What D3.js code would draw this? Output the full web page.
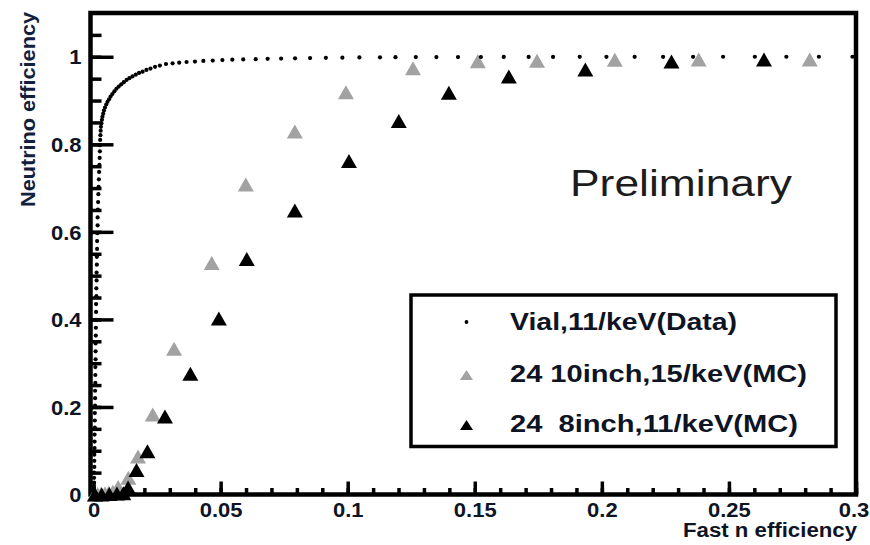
<!DOCTYPE html>
<html>
<head>
<meta charset="utf-8">
<script src="https://cdn.jsdelivr.net/npm/d3@7"></script>
<style>
  html, body { margin: 0; padding: 0; background: #ffffff; }
  svg { display: block; }
  text { font-family: "Liberation Sans", Arial, Helvetica, sans-serif; }
</style>
</head>
<body>
<svg id="chart" width="870" height="545"></svg>
<script>
// Vial, 11/keV (Data): [fast n efficiency, neutrino efficiency]
const vialPoints = [
  [0.0000, 0.000], [0.0001, 0.008], [0.0001, 0.017], [0.0002, 0.027], [0.0002, 0.038],
  [0.0002, 0.050], [0.0003, 0.063], [0.0003, 0.077], [0.0003, 0.091], [0.0004, 0.106],
  [0.0004, 0.121], [0.0004, 0.137], [0.0005, 0.153], [0.0005, 0.169], [0.0005, 0.186],
  [0.0006, 0.203], [0.0006, 0.220], [0.0006, 0.237], [0.0007, 0.255], [0.0007, 0.273],
  [0.0007, 0.291], [0.0008, 0.309], [0.0008, 0.327], [0.0008, 0.345], [0.0009, 0.363],
  [0.0009, 0.381], [0.0010, 0.399], [0.0010, 0.417], [0.0010, 0.435], [0.0011, 0.453],
  [0.0011, 0.471], [0.0012, 0.489], [0.0012, 0.507], [0.0013, 0.525], [0.0013, 0.543],
  [0.0014, 0.561], [0.0014, 0.579], [0.0015, 0.597], [0.0016, 0.615], [0.0016, 0.633],
  [0.0017, 0.651], [0.0018, 0.668], [0.0019, 0.686], [0.0020, 0.703], [0.0021, 0.720],
  [0.0022, 0.737], [0.0023, 0.753], [0.0024, 0.769], [0.0025, 0.784], [0.0025, 0.798],
  [0.0026, 0.810], [0.0027, 0.821], [0.0028, 0.831], [0.0029, 0.840], [0.0031, 0.848],
  [0.0033, 0.856], [0.0035, 0.863], [0.0038, 0.870], [0.0041, 0.877], [0.0045, 0.884],
  [0.0050, 0.891], [0.0055, 0.897], [0.0061, 0.903], [0.0067, 0.909], [0.0074, 0.915],
  [0.0082, 0.921], [0.0090, 0.927], [0.0099, 0.932], [0.0109, 0.937], [0.0119, 0.942],
  [0.0130, 0.947], [0.0141, 0.951], [0.0153, 0.955], [0.0166, 0.959], [0.0179, 0.963],
  [0.0193, 0.966], [0.0208, 0.970], [0.0224, 0.973], [0.0242, 0.977], [0.0261, 0.980],
  [0.0285, 0.9835], [0.0311, 0.9851], [0.0337, 0.9865], [0.0366, 0.9881], [0.0399, 0.9891],
  [0.0432, 0.9904], [0.0469, 0.9913], [0.0507, 0.9925], [0.0546, 0.9933], [0.0589, 0.9940],
  [0.0638, 0.9946], [0.0685, 0.9952], [0.0738, 0.9958], [0.0793, 0.9965], [0.0852, 0.9971],
  [0.0914, 0.9976], [0.0979, 0.9980], [0.1046, 0.9985], [0.1127, 0.9988], [0.1188, 0.9990],
  [0.1268, 0.9992], [0.1349, 0.9993], [0.1434, 0.9994], [0.1524, 0.9995], [0.1614, 0.9996],
  [0.1712, 0.9997], [0.1808, 0.9997], [0.1913, 0.9998], [0.2018, 0.9998], [0.2129, 0.9999],
  [0.2241, 0.9999], [0.2359, 0.9999], [0.2477, 1.0000], [0.2602, 1.0000], [0.2726, 1.0000],
  [0.2854, 1.0000], [0.2986, 1.0000]
];

// 24 10inch, 15/keV (MC)
const tenInchPoints = [
  [0.0004, 0.000], [0.0016, 0.001], [0.0030, 0.002], [0.0045, 0.003], [0.0060, 0.004],
  [0.0076, 0.006], [0.0097, 0.017], [0.0137, 0.038], [0.0175, 0.087], [0.0233, 0.183],
  [0.0317, 0.333], [0.0465, 0.529], [0.0599, 0.708], [0.0792, 0.829], [0.0993, 0.919],
  [0.1257, 0.974], [0.1512, 0.990], [0.1745, 0.991], [0.2051, 0.993], [0.2381, 0.994],
  [0.2818, 0.994]
];

// 24 8inch, 11/keV (MC)
const eightInchPoints = [
  [0.0006, 0.000], [0.0032, 0.000], [0.0062, 0.001], [0.0092, 0.002], [0.0117, 0.003],
  [0.0136, 0.016], [0.0169, 0.056], [0.0212, 0.099], [0.0281, 0.178], [0.0381, 0.276],
  [0.0493, 0.402], [0.0603, 0.538], [0.0792, 0.649], [0.1005, 0.762], [0.1201, 0.853],
  [0.1398, 0.918], [0.1634, 0.955], [0.1935, 0.971], [0.2274, 0.989], [0.2638, 0.994]
];

const xTickValues = [0, 0.05, 0.1, 0.15, 0.2, 0.25, 0.3];
const xTickLabels = ["0", "0.05", "0.1", "0.15", "0.2", "0.25", "0.3"];
const yTickValues = [0, 0.2, 0.4, 0.6, 0.8, 1];
const yTickLabels = ["0", "0.2", "0.4", "0.6", "0.8", "1"];
const legendLabels = ["Vial,11/keV(Data)", "24 10inch,15/keV(MC)", "24  8inch,11/keV(MC)"];
const xTitle = "Fast n efficiency";
const yTitle = "Neutrino efficiency";
const watermark = "Preliminary";

// ---- layout ----
const xDomain = [-0.0012, 0.3];
const yDomain = [0, 1.1];
const frame = { left: 90.5, right: 856, top: 13, bottom: 494.5 };
const textColor = "#0e1424";
const grayColor = "#a2a2a2";
const tickFont = 20;
const glyphStretch = 1.1;

const svg = d3.select("#chart");
const x = d3.scaleLinear().domain(xDomain).range([frame.left, frame.right]);
const y = d3.scaleLinear().domain(yDomain).range([frame.bottom, frame.top]);

// triangle marker centred on its bounding box
function triangle(w, h) {
  return `M0,${-h / 2}L${w / 2},${h / 2}L${-w / 2},${h / 2}Z`;
}

// ---- minor and major ticks ----
const xMinor = d3.range(0, 0.3001, 0.01).map(v => +v.toFixed(3));
const yMinor = d3.range(0, 1.1001, 0.05).map(v => +v.toFixed(3)).filter(v => v < 1.09);

function styleAxis(g) {
  g.select(".domain").remove();
  g.selectAll(".tick line").attr("stroke", "#000").attr("stroke-width", 3.5);
}

svg.append("g")
  .attr("transform", `translate(0,${frame.bottom})`)
  .call(d3.axisBottom(x).tickValues(xMinor).tickSize(-6.5).tickFormat(""))
  .call(styleAxis);

svg.append("g")
  .attr("transform", `translate(${frame.left},0)`)
  .call(d3.axisLeft(y).tickValues(yMinor).tickSize(-11).tickFormat(""))
  .call(styleAxis);

const gx = svg.append("g")
  .attr("transform", `translate(0,${frame.bottom})`)
  .call(d3.axisBottom(x).tickValues(xTickValues).tickSize(-13).tickPadding(8.5)
    .tickFormat((d, i) => xTickLabels[i]))
  .call(styleAxis);
gx.selectAll(".tick text")
  .attr("fill", textColor)
  .attr("font-size", tickFont)
  .attr("font-weight", "bold")
  .attr("transform", `scale(${glyphStretch},1)`);
// keep the last label inside the page edge
gx.selectAll(".tick text").filter((d, i, n) => i === n.length - 1)
  .attr("x", -2.5 / glyphStretch);

const gy = svg.append("g")
  .attr("transform", `translate(${frame.left},0)`)
  .call(d3.axisLeft(y).tickValues(yTickValues).tickSize(-23).tickPadding(8)
    .tickFormat((d, i) => yTickLabels[i]))
  .call(styleAxis);
gy.selectAll(".tick text")
  .attr("fill", textColor)
  .attr("font-size", tickFont)
  .attr("font-weight", "bold")
  .attr("x", -9 / glyphStretch)
  .attr("dy", "0.36em")
  .attr("transform", `scale(${glyphStretch},1)`);

// ---- frame ----
svg.append("rect")
  .attr("x", frame.left).attr("y", frame.top)
  .attr("width", frame.right - frame.left).attr("height", frame.bottom - frame.top)
  .attr("fill", "none").attr("stroke", "#000").attr("stroke-width", 4.5);

// ---- axis titles ----
svg.append("text")
  .attr("x", 857).attr("y", 537)
  .attr("text-anchor", "end")
  .attr("font-size", 19.5).attr("font-weight", "bold")
  .attr("fill", textColor)
  .attr("textLength", 174).attr("lengthAdjust", "spacingAndGlyphs")
  .text(xTitle);

svg.append("text")
  .attr("transform", "translate(35,12) rotate(-90)")
  .attr("text-anchor", "end")
  .attr("font-size", 19.5).attr("font-weight", "bold")
  .attr("fill", "#13203c")
  .attr("textLength", 195).attr("lengthAdjust", "spacingAndGlyphs")
  .text(yTitle);

// ---- watermark ----
svg.append("text")
  .attr("x", 570).attr("y", 196)
  .attr("font-family", "Lato, 'Open Sans', sans-serif")
  .attr("font-size", 37)
  .attr("fill", "#1c1c1c")
  .attr("textLength", 222).attr("lengthAdjust", "spacingAndGlyphs")
  .text(watermark);

// ---- data markers ----
svg.append("g").selectAll("path")
  .data(tenInchPoints).join("path")
  .attr("d", triangle(16, 14))
  .attr("transform", d => `translate(${x(d[0])},${y(d[1])})`)
  .attr("fill", grayColor);

svg.append("g").selectAll("path")
  .data(eightInchPoints).join("path")
  .attr("d", triangle(16, 14))
  .attr("transform", d => `translate(${x(d[0])},${y(d[1])})`)
  .attr("fill", "#000");

svg.append("g").selectAll("circle")
  .data(vialPoints).join("circle")
  .attr("cx", d => x(d[0]))
  .attr("cy", d => y(d[1]))
  .attr("r", 2.1)
  .attr("fill", "#000");

// ---- legend ----
const legend = svg.append("g");
legend.append("rect")
  .attr("x", 411).attr("y", 295).attr("width", 425).attr("height", 151.5)
  .attr("fill", "#fff").attr("stroke", "#000").attr("stroke-width", 3.5);

const legendRows = [
  { label: legendLabels[0], baseline: 330, markY: 322, width: 227, kind: "dot", color: "#000" },
  { label: legendLabels[1], baseline: 382, markY: 375, width: 297, kind: "tri", color: grayColor },
  { label: legendLabels[2], baseline: 432, markY: 425, width: 288, kind: "tri", color: "#000" }
];
legendRows.forEach(row => {
  if (row.kind === "dot") {
    legend.append("circle").attr("cx", 466.5).attr("cy", row.markY).attr("r", 1.9).attr("fill", row.color);
  } else {
    legend.append("path").attr("d", triangle(13, 10))
      .attr("transform", `translate(466.5,${row.markY})`).attr("fill", row.color);
  }
  legend.append("text")
    .attr("x", 510).attr("y", row.baseline)
    .attr("font-size", 23.5).attr("font-weight", "bold")
    .attr("fill", textColor)
    .style("white-space", "pre")
    .attr("textLength", row.width).attr("lengthAdjust", "spacingAndGlyphs")
    .text(row.label);
});
</script>
</body>
</html>
